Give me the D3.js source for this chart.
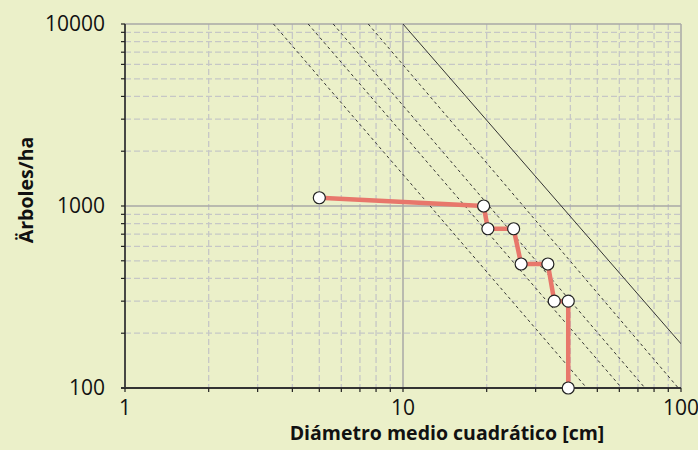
<!DOCTYPE html>
<html>
<head>
<meta charset="utf-8">
<script src="https://cdn.jsdelivr.net/npm/d3@7"></script>
<style>
	html, body { margin: 0; padding: 0; background: #ebf0c9; }
	svg { display: block; }
</style>
</head>
<body>
<svg id="chart" width="698" height="450"></svg>
<script>
// measured stand: quadratic mean diameter [cm] vs trees per ha
const diameters = [5.0, 19.5, 20.2, 25.0, 26.6, 33.2, 35.0, 39.3, 39.3];
const treesPerHa = [1110, 1000, 750, 750, 480, 480, 300, 300, 100];

// reference density lines, endpoints [D, N]
const maxDensityLine = [[10, 10000], [100, 175]];
const guideLines = [
	[[3.42, 10000], [45.8, 100]],
	[[4.56, 10000], [61.2, 100]],
	[[5.61, 10000], [74.2, 100]],
	[[7.5, 10000], [97.8, 100]],
];

const xMajor = [1, 10, 100];
const yMajor = [100, 1000, 10000];
const xLabels = ["1", "10", "100"];
const yLabels = ["100", "1000", "10000"];

const svg = d3.select("#chart");
const x = d3.scaleLog().domain([1, 100]).range([125, 681]);
const y = d3.scaleLog().domain([100, 10000]).range([388, 24]);

const minorOf = (lo, hi) => {
	const out = [];
	for (let base = lo; base < hi; base *= 10) {
		for (let k = 2; k <= 9; k++) out.push(base * k);
	}
	return out;
};
const xMinor = minorOf(1, 100);
const yMinor = minorOf(100, 10000);

const grid = svg.append("g");

grid.selectAll("line.xminor")
	.data(xMinor)
	.join("line")
	.attr("x1", (d) => x(d)).attr("x2", (d) => x(d))
	.attr("y1", y(10000)).attr("y2", y(100))
	.attr("stroke", "#c6c7c6").attr("stroke-width", 1.3)
	.attr("stroke-dasharray", "6,3");

grid.selectAll("line.yminor")
	.data(yMinor)
	.join("line")
	.attr("y1", (d) => y(d)).attr("y2", (d) => y(d))
	.attr("x1", x(1)).attr("x2", x(100))
	.attr("stroke", "#c6c7c6").attr("stroke-width", 1.3)
	.attr("stroke-dasharray", "6,3");

grid.selectAll("line.xmajor")
	.data(xMajor)
	.join("line")
	.attr("x1", (d) => x(d)).attr("x2", (d) => x(d))
	.attr("y1", y(10000)).attr("y2", y(100))
	.attr("stroke", "#a9a9a6").attr("stroke-width", 1.5);

grid.selectAll("line.ymajor")
	.data(yMajor)
	.join("line")
	.attr("y1", (d) => y(d)).attr("y2", (d) => y(d))
	.attr("x1", x(1)).attr("x2", x(100))
	.attr("stroke", "#a9a9a6").attr("stroke-width", 1.5);

const line = d3.line().x((d) => x(d[0])).y((d) => y(d[1]));

svg.append("defs").append("clipPath").attr("id", "plotClip")
	.append("rect")
	.attr("x", x(1)).attr("y", y(10000))
	.attr("width", x(100) - x(1)).attr("height", y(100) - y(10000));

const refs = svg.append("g").attr("clip-path", "url(#plotClip)");

refs.selectAll("path.guide")
	.data(guideLines)
	.join("path")
	.attr("class", "guide")
	.attr("d", line)
	.attr("fill", "none")
	.attr("stroke", "#333")
	.attr("stroke-width", 1)
	.attr("stroke-dasharray", "3,3");

refs.append("path")
	.attr("d", line(maxDensityLine))
	.attr("fill", "none")
	.attr("stroke", "#333")
	.attr("stroke-width", 1);

// axes
const yAxis = svg.append("g").attr("transform", `translate(${x(1)},0)`);
yAxis.append("line")
	.attr("x1", 0).attr("x2", 0)
	.attr("y1", y(10000)).attr("y2", y(100))
	.attr("stroke", "#222").attr("stroke-width", 1.5);
yAxis.selectAll("line.tick")
	.data(yMinor.concat(yMajor))
	.join("line")
	.attr("x1", -4).attr("x2", 0)
	.attr("y1", (d) => y(d)).attr("y2", (d) => y(d))
	.attr("stroke", "#222").attr("stroke-width", 1.2);
yAxis.selectAll("text")
	.data(yMajor)
	.join("text")
	.attr("x", -20)
	.attr("y", (d) => y(d))
	.attr("dy", "0.35em")
	.attr("text-anchor", "end")
	.attr("font-family", "'Open Sans', sans-serif")
	.attr("font-size", 21)
	.attr("fill", "#111")
	.text((d, i) => yLabels[i]);

const xAxis = svg.append("g").attr("transform", `translate(0,${y(100)})`);
xAxis.append("line")
	.attr("x1", x(1) - 4).attr("x2", x(100))
	.attr("y1", 0).attr("y2", 0)
	.attr("stroke", "#333").attr("stroke-width", 2);
xAxis.selectAll("line.tick")
	.data(xMinor.concat(xMajor))
	.join("line")
	.attr("y1", 0).attr("y2", 4)
	.attr("x1", (d) => x(d)).attr("x2", (d) => x(d))
	.attr("stroke", "#222").attr("stroke-width", 1.2);
xAxis.selectAll("text")
	.data(xMajor)
	.join("text")
	.attr("x", (d) => x(d))
	.attr("y", 27)
	.attr("text-anchor", "middle")
	.attr("font-family", "'Open Sans', sans-serif")
	.attr("font-size", 21)
	.attr("fill", "#111")
	.text((d, i) => xLabels[i]);

svg.append("text")
	.attr("x", 447)
	.attr("y", 440)
	.attr("text-anchor", "middle")
	.attr("font-family", "'Open Sans', sans-serif")
	.attr("font-weight", 700)
	.attr("font-size", 19.5)
	.attr("fill", "#111")
	.text("Diámetro medio cuadrático [cm]");

svg.append("text")
	.attr("transform", "translate(33,190) rotate(-90)")
	.attr("text-anchor", "middle")
	.attr("font-family", "'Open Sans', sans-serif")
	.attr("font-weight", 700)
	.attr("font-size", 19.5)
	.attr("fill", "#111")
	.text("Ärboles/ha");

// stand trajectory
const stand = diameters.map((d, i) => [d, treesPerHa[i]]);

svg.append("path")
	.attr("d", line(stand))
	.attr("fill", "none")
	.attr("stroke", "#e8776b")
	.attr("stroke-width", 4.5)
	.attr("stroke-linejoin", "round");

svg.selectAll("circle.pt")
	.data(stand)
	.join("circle")
	.attr("class", "pt")
	.attr("cx", (d) => x(d[0]))
	.attr("cy", (d) => y(d[1]))
	.attr("r", 6)
	.attr("fill", "#fff")
	.attr("stroke", "#222")
	.attr("stroke-width", 1.2);
</script>
</body>
</html>
